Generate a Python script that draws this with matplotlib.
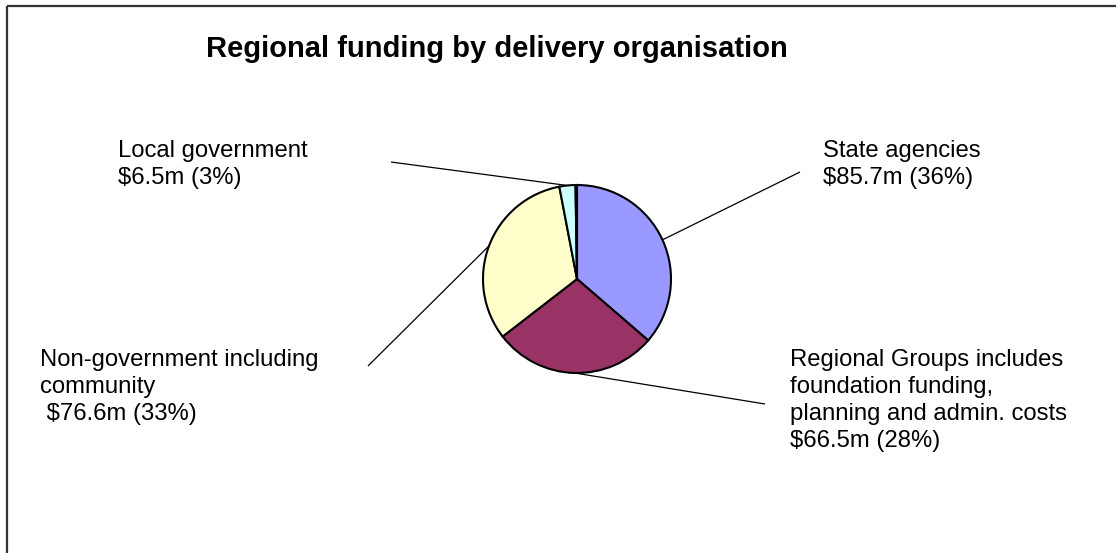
import numpy as np
import matplotlib
matplotlib.use("Agg")
import matplotlib.pyplot as plt

# Funding by delivery organisation ($m), clockwise from 12 o'clock
categories = ["State agencies",
              "Regional Groups includes foundation funding, planning and admin. costs",
              "Non-government including community",
              "Local government",
              "Unallocated"]
values = [85.7, 66.5, 76.6, 6.5, 0.6]
label_lines = [
    ["State agencies", "$85.7m (36%)"],
    ["Regional Groups includes", "foundation funding,", "planning and admin. costs", "$66.5m (28%)"],
    ["Non-government including", "community", " $76.6m (33%)"],
    ["Local government", "$6.5m (3%)"],
    [],
]
colors = ["#9999FF", "#993366", "#FFFFCC", "#CCFFFF", "#FFFFFF"]
title = "Regional funding by delivery organisation"

W, H = 1116, 553
fig = plt.figure(figsize=(W / 100, H / 100), dpi=100)
ax = fig.add_axes([0, 0, 1, 1])

font = "Liberation Sans"
cx, cy, r = 577, 279, 94

# pie drawn in a y-down pixel frame, so counterclockwise angles appear clockwise
wedges, _ = ax.pie(values, colors=colors, startangle=-90, counterclock=True,
                   center=(cx, cy), radius=r, frame=True,
                   wedgeprops=dict(edgecolor="black", linewidth=1.5))
ax.set_xlim(0, W)
ax.set_ylim(H, 0)
ax.set_aspect("equal")
ax.axis("off")

# label anchor (leader start) and text origin for each slice
leader_start = [(800, 172), (765, 404), (368, 366), (391, 162), None]
text_origin = [(823, 157), (790, 366), (40, 366), (118, 157), None]
line_step = 27

total = sum(values)
start = 90.0
for i, v in enumerate(values):
    sweep = 360.0 * v / total
    mid = np.deg2rad(start - sweep / 2)
    start -= sweep
    if leader_start[i] is None:
        continue
    ex = cx + r * np.cos(mid)
    ey = cy - r * np.sin(mid)
    lx, ly = leader_start[i]
    ax.plot([lx, ex], [ly, ey], color="black", lw=0.9, solid_capstyle="butt")
    tx, ty = text_origin[i]
    for k, line in enumerate(label_lines[i]):
        ax.text(tx, ty + k * line_step, line, fontsize=17.2, family=font,
                ha="left", va="baseline", color="black")

ax.text(497, 57, title, fontsize=21, fontweight="bold", family=font,
        ha="center", va="baseline", color="black")

# chart frame (top and left edges visible)
ax.plot([7, W + 5], [6, 6], color="#333333", lw=1.6, solid_capstyle="butt")
ax.plot([7, 7], [6, H + 5], color="#333333", lw=1.6, solid_capstyle="butt")

fig.savefig("out.png", dpi=100, facecolor="white")
